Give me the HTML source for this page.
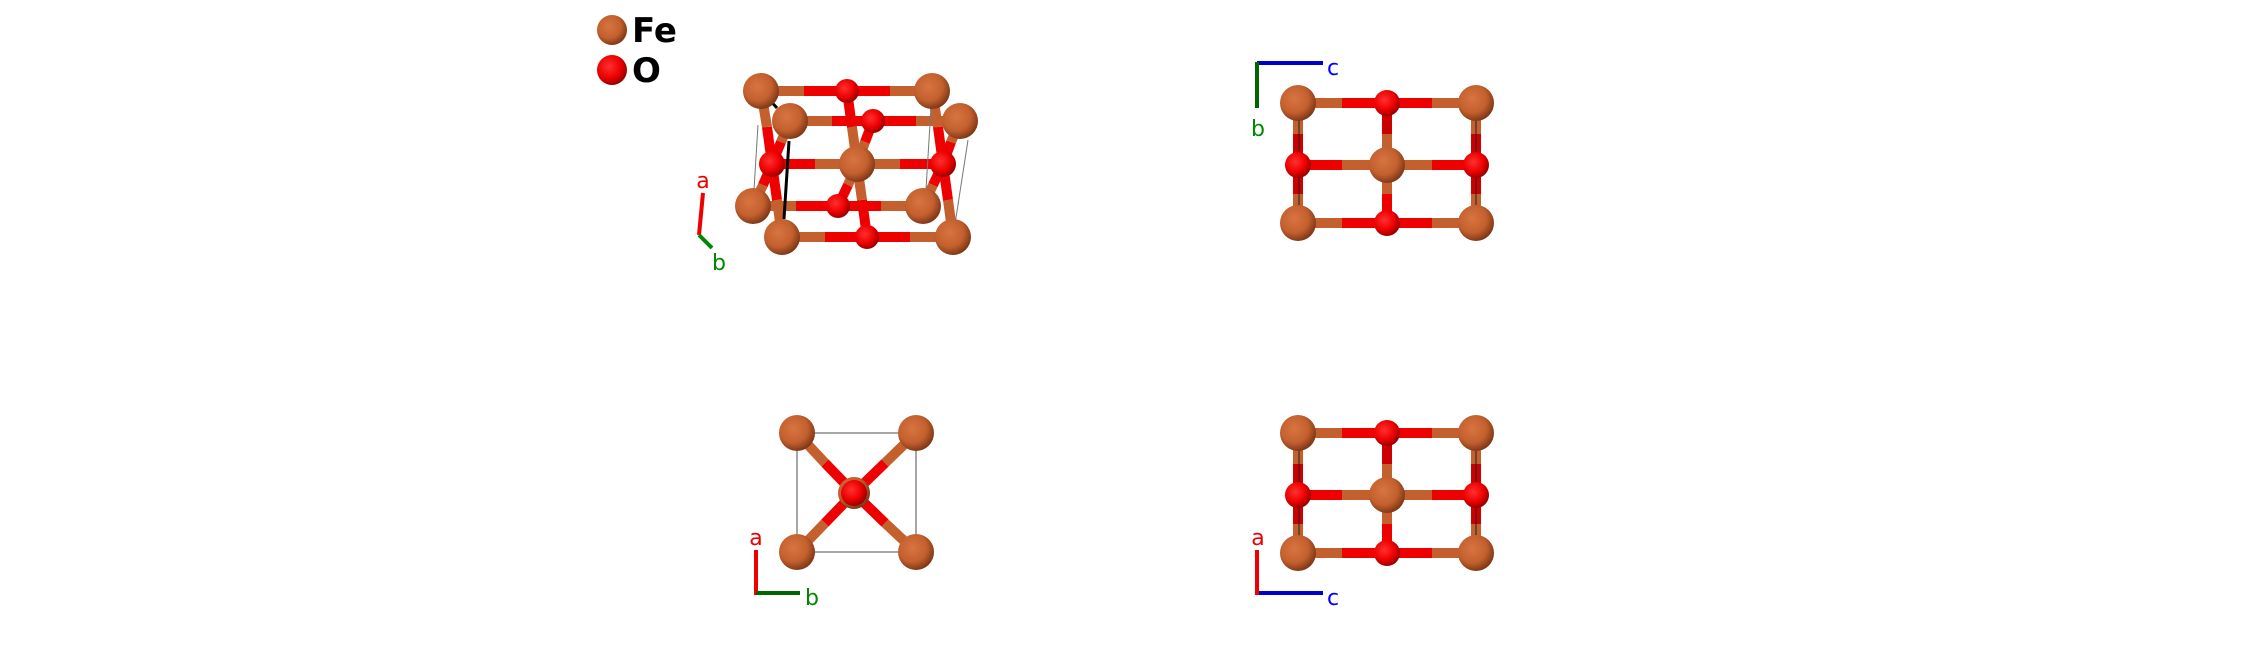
<!DOCTYPE html>
<html><head><meta charset="utf-8"><style>
html,body{margin:0;padding:0;background:#fff;width:2244px;height:658px;overflow:hidden}
svg{display:block}
text{font-family:"DejaVu Sans","Liberation Sans",sans-serif}
</style></head><body>
<svg width="2244" height="658" viewBox="0 0 2244 658" xmlns="http://www.w3.org/2000/svg">
<defs>
<radialGradient id="fe" cx="40%" cy="38%" r="65%"><stop offset="0" stop-color="#d87440"/><stop offset="0.6" stop-color="#c4602e"/><stop offset="1" stop-color="#7a3515"/></radialGradient>
<radialGradient id="ox" cx="40%" cy="38%" r="65%"><stop offset="0" stop-color="#ff3030"/><stop offset="0.6" stop-color="#ee0000"/><stop offset="1" stop-color="#900000"/></radialGradient>
</defs>
<g stroke-linecap="butt" stroke-width="10">
<!-- Panel 1 bonds -->
<!-- back top row -->
<line x1="761" y1="91" x2="804" y2="91" stroke="#c4602e"/><line x1="804" y1="91" x2="847" y2="91" stroke="#e00"/>
<line x1="847" y1="91" x2="890" y2="91" stroke="#e00"/><line x1="890" y1="91" x2="932" y2="91" stroke="#c4602e"/>
<!-- back bottom row -->
<line x1="753" y1="206" x2="796" y2="206" stroke="#c4602e"/><line x1="796" y1="206" x2="838" y2="206" stroke="#e00"/>
<line x1="838" y1="206" x2="881" y2="206" stroke="#e00"/><line x1="881" y1="206" x2="923" y2="206" stroke="#c4602e"/>
<!-- middle row -->
<line x1="772" y1="164" x2="815" y2="164" stroke="#e00"/><line x1="815" y1="164" x2="857" y2="164" stroke="#c4602e"/>
<line x1="857" y1="164" x2="900" y2="164" stroke="#c4602e"/><line x1="900" y1="164" x2="943" y2="164" stroke="#e00"/>
<!-- verticals to left O -->
<line x1="761" y1="91" x2="767" y2="127" stroke="#c4602e"/><line x1="767" y1="127" x2="772" y2="164" stroke="#e00"/>
<line x1="753" y1="206" x2="763" y2="185" stroke="#c4602e"/><line x1="763" y1="185" x2="772" y2="164" stroke="#e00"/>
<line x1="790" y1="121" x2="781" y2="142" stroke="#c4602e"/><line x1="781" y1="142" x2="772" y2="164" stroke="#e00"/>
<line x1="782" y1="237" x2="777" y2="200" stroke="#c4602e"/><line x1="777" y1="200" x2="772" y2="164" stroke="#e00"/>
<!-- verticals to right O -->
<line x1="932" y1="91" x2="938" y2="127" stroke="#c4602e"/><line x1="938" y1="127" x2="943" y2="164" stroke="#e00"/>
<line x1="923" y1="206" x2="933" y2="185" stroke="#c4602e"/><line x1="933" y1="185" x2="943" y2="164" stroke="#e00"/>
<line x1="960" y1="121" x2="951" y2="142" stroke="#c4602e"/><line x1="951" y1="142" x2="943" y2="164" stroke="#e00"/>
<line x1="953" y1="237" x2="948" y2="200" stroke="#c4602e"/><line x1="948" y1="200" x2="943" y2="164" stroke="#e00"/>
<!-- center Fe to O's -->
<line x1="857" y1="164" x2="852" y2="127" stroke="#c4602e"/><line x1="852" y1="127" x2="847" y2="91" stroke="#e00"/>
<line x1="857" y1="164" x2="865" y2="142" stroke="#c4602e"/><line x1="865" y1="142" x2="873" y2="121" stroke="#e00"/>
<line x1="857" y1="164" x2="848" y2="185" stroke="#c4602e"/><line x1="848" y1="185" x2="838" y2="206" stroke="#e00"/>
<line x1="857" y1="164" x2="862" y2="200" stroke="#c4602e"/><line x1="862" y1="200" x2="867" y2="237" stroke="#e00"/>
<!-- front top row -->
<line x1="790" y1="121" x2="832" y2="121" stroke="#c4602e"/><line x1="832" y1="121" x2="873" y2="121" stroke="#e00"/>
<line x1="873" y1="121" x2="916" y2="121" stroke="#e00"/><line x1="916" y1="121" x2="960" y2="121" stroke="#c4602e"/>
<!-- front bottom row -->
<line x1="782" y1="237" x2="825" y2="237" stroke="#c4602e"/><line x1="825" y1="237" x2="867" y2="237" stroke="#e00"/>
<line x1="867" y1="237" x2="910" y2="237" stroke="#e00"/><line x1="910" y1="237" x2="953" y2="237" stroke="#c4602e"/>
</g>
<g stroke="#777" stroke-width="1" fill="none">
<line x1="758" y1="125" x2="753" y2="206"/><line x1="968" y1="140" x2="953" y2="237"/><line x1="932" y1="91" x2="925" y2="206"/>
</g>
<line x1="789" y1="141" x2="784" y2="219" stroke="#000" stroke-width="3"/>
<line x1="766" y1="96" x2="777" y2="108" stroke="#000" stroke-width="3"/>
<g>
<circle cx="761" cy="91" r="18" fill="url(#fe)"/><circle cx="932" cy="91" r="18" fill="url(#fe)"/>
<circle cx="847" cy="91" r="12" fill="url(#ox)"/>
<circle cx="753" cy="206" r="18" fill="url(#fe)"/><circle cx="923" cy="206" r="18" fill="url(#fe)"/>
<circle cx="838" cy="206" r="12" fill="url(#ox)"/>
<circle cx="772" cy="164" r="13" fill="url(#ox)"/><circle cx="943" cy="164" r="13" fill="url(#ox)"/>
<circle cx="857" cy="164" r="18" fill="url(#fe)"/>
<circle cx="790" cy="121" r="18" fill="url(#fe)"/><circle cx="960" cy="121" r="18" fill="url(#fe)"/>
<circle cx="873" cy="121" r="12" fill="url(#ox)"/>
<circle cx="782" cy="237" r="18" fill="url(#fe)"/><circle cx="953" cy="237" r="18" fill="url(#fe)"/>
<circle cx="867" cy="237" r="12" fill="url(#ox)"/>
</g>
<line x1="703" y1="193" x2="699" y2="235" stroke="#e00" stroke-width="4"/>
<line x1="699" y1="235" x2="712" y2="248" stroke="#080" stroke-width="4"/>
<text x="703" y="188" font-size="22" fill="#e00" text-anchor="middle">a</text>
<text x="719" y="270" font-size="22" fill="#080" text-anchor="middle">b</text>

<!-- legend -->
<circle cx="612" cy="30" r="15" fill="url(#fe)"/>
<circle cx="612" cy="70" r="15" fill="url(#ox)"/>
<text x="632" y="42" font-size="34" font-weight="bold" fill="#000">Fe</text>
<text x="632" y="82" font-size="34" font-weight="bold" fill="#000">O</text>

<!-- Panel 2 & 4 -->
<g id="p2">
<g stroke-width="10">
<line x1="1298" y1="103" x2="1342" y2="103" stroke="#c4602e"/><line x1="1342" y1="103" x2="1432" y2="103" stroke="#e00"/><line x1="1432" y1="103" x2="1476" y2="103" stroke="#c4602e"/>
<line x1="1298" y1="223" x2="1342" y2="223" stroke="#c4602e"/><line x1="1342" y1="223" x2="1432" y2="223" stroke="#e00"/><line x1="1432" y1="223" x2="1476" y2="223" stroke="#c4602e"/>
<line x1="1298" y1="165" x2="1342" y2="165" stroke="#e00"/><line x1="1342" y1="165" x2="1432" y2="165" stroke="#c4602e"/><line x1="1432" y1="165" x2="1476" y2="165" stroke="#e00"/>
<line x1="1298" y1="103" x2="1298" y2="134" stroke="#c4602e"/><line x1="1298" y1="134" x2="1298" y2="194" stroke="#c00"/><line x1="1298" y1="194" x2="1298" y2="223" stroke="#c4602e"/>
<line x1="1476" y1="103" x2="1476" y2="134" stroke="#c4602e"/><line x1="1476" y1="134" x2="1476" y2="194" stroke="#c00"/><line x1="1476" y1="194" x2="1476" y2="223" stroke="#c4602e"/>
<line x1="1387" y1="103" x2="1387" y2="134" stroke="#c00"/><line x1="1387" y1="134" x2="1387" y2="194" stroke="#c4602e"/><line x1="1387" y1="194" x2="1387" y2="223" stroke="#e00"/>
</g>
<line x1="1299" y1="103" x2="1299" y2="223" stroke="#222" stroke-width="1"/><line x1="1476" y1="103" x2="1476" y2="223" stroke="#222" stroke-width="1"/>
<circle cx="1298" cy="165" r="13" fill="url(#ox)"/><circle cx="1476" cy="165" r="13" fill="url(#ox)"/>
<circle cx="1387" cy="165" r="18" fill="url(#fe)"/>
<circle cx="1387" cy="103" r="13" fill="url(#ox)"/><circle cx="1387" cy="223" r="13" fill="url(#ox)"/>
<circle cx="1298" cy="103" r="18" fill="url(#fe)"/><circle cx="1476" cy="103" r="18" fill="url(#fe)"/>
<circle cx="1298" cy="223" r="18" fill="url(#fe)"/><circle cx="1476" cy="223" r="18" fill="url(#fe)"/>
</g>
<line x1="1257" y1="63" x2="1323" y2="63" stroke="#00c" stroke-width="4"/>
<line x1="1257" y1="62" x2="1257" y2="108" stroke="#060" stroke-width="4"/>
<text x="1333" y="75" font-size="22" fill="#00f" text-anchor="middle">c</text>
<text x="1258" y="136" font-size="22" fill="#080" text-anchor="middle">b</text>

<use href="#p2" transform="translate(0,330)"/>
<line x1="1257" y1="593" x2="1323" y2="593" stroke="#00c" stroke-width="4"/>
<line x1="1257" y1="550" x2="1257" y2="595" stroke="#e00" stroke-width="4"/>
<text x="1333" y="605" font-size="22" fill="#00f" text-anchor="middle">c</text>
<text x="1258" y="545" font-size="22" fill="#e00" text-anchor="middle">a</text>

<!-- Panel 3 -->
<rect x="797" y="433" width="119" height="119" fill="none" stroke="#888" stroke-width="1.5"/>
<g stroke-width="10">
<line x1="797" y1="433" x2="825" y2="463" stroke="#c4602e"/><line x1="825" y1="463" x2="854" y2="493" stroke="#e00"/>
<line x1="916" y1="433" x2="885" y2="463" stroke="#c4602e"/><line x1="885" y1="463" x2="854" y2="493" stroke="#e00"/>
<line x1="797" y1="552" x2="825" y2="523" stroke="#c4602e"/><line x1="825" y1="523" x2="854" y2="493" stroke="#e00"/>
<line x1="916" y1="552" x2="885" y2="523" stroke="#c4602e"/><line x1="885" y1="523" x2="854" y2="493" stroke="#e00"/>
</g>
<circle cx="854" cy="493" r="16" fill="url(#fe)"/>
<circle cx="854" cy="493" r="13" fill="url(#ox)"/>
<circle cx="797" cy="433" r="18" fill="url(#fe)"/><circle cx="916" cy="433" r="18" fill="url(#fe)"/>
<circle cx="797" cy="552" r="18" fill="url(#fe)"/><circle cx="916" cy="552" r="18" fill="url(#fe)"/>
<line x1="756" y1="550" x2="756" y2="595" stroke="#e00" stroke-width="4"/>
<line x1="756" y1="593" x2="800" y2="593" stroke="#060" stroke-width="4"/>
<text x="756" y="545" font-size="22" fill="#e00" text-anchor="middle">a</text>
<text x="812" y="605" font-size="22" fill="#080" text-anchor="middle">b</text>
</svg>
</body></html>
